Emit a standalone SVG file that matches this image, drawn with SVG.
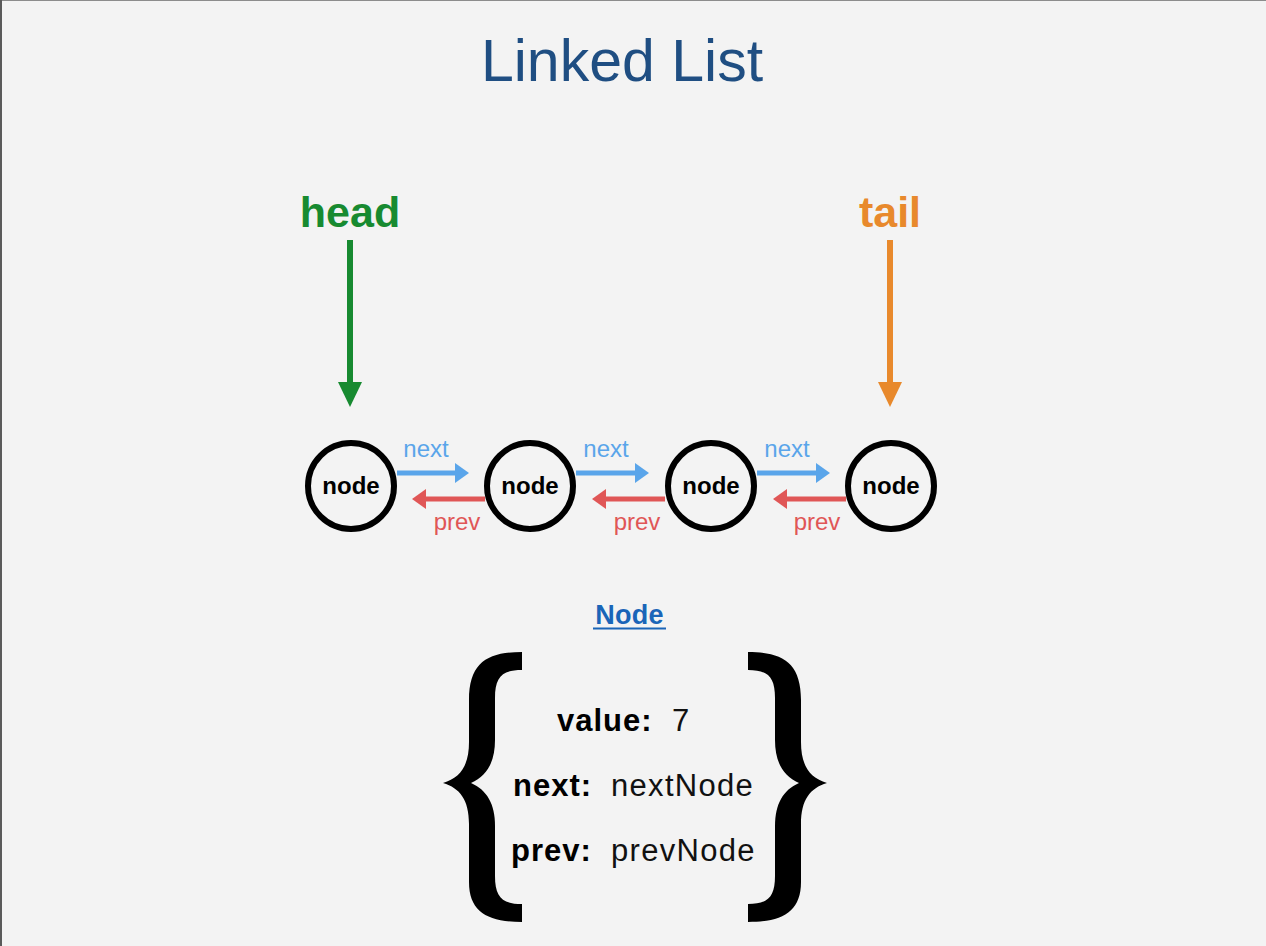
<svg xmlns="http://www.w3.org/2000/svg" width="1266" height="946" viewBox="0 0 1266 946">
  <style>
    .sans { font-family: "Liberation Sans", Arial, Helvetica, sans-serif; }
    .ring { fill: none; stroke: #000; stroke-width: 6; }
    .nlabel { font-size: 24px; font-weight: bold; fill: #000; text-anchor: middle; }
    .nxt { stroke: #5aa5ea; stroke-width: 5; fill: none; }
    .prv { stroke: #e05656; stroke-width: 5; fill: none; }
    .nxtTxt { font-size: 24px; fill: #5aa5ea; text-anchor: middle; }
    .prvTxt { font-size: 24px; fill: #e05656; text-anchor: middle; }
    .key { font-size: 31px; font-weight: bold; fill: #000; letter-spacing: 1px; }
    .val { font-size: 31px; fill: #111; letter-spacing: 1.3px; }
    .brace { fill: #000; stroke: none; }
  </style>
  <defs>
    <marker id="ahNext" viewBox="0 0 14 20" markerWidth="14" markerHeight="20" refX="0" refY="10" orient="auto" markerUnits="userSpaceOnUse">
      <path d="M0 0 L14 10 L0 20 z" fill="#5aa5ea"/>
    </marker>
    <marker id="ahPrev" viewBox="0 0 14 20" markerWidth="14" markerHeight="20" refX="0" refY="10" orient="auto" markerUnits="userSpaceOnUse">
      <path d="M0 0 L14 10 L0 20 z" fill="#e05656"/>
    </marker>
    <marker id="ahHead" viewBox="0 0 25 24" markerWidth="25" markerHeight="24" refX="0" refY="12" orient="auto" markerUnits="userSpaceOnUse">
      <path d="M0 0 L25 12 L0 24 z" fill="#178a30"/>
    </marker>
    <marker id="ahTail" viewBox="0 0 25 24" markerWidth="25" markerHeight="24" refX="0" refY="12" orient="auto" markerUnits="userSpaceOnUse">
      <path d="M0 0 L25 12 L0 24 z" fill="#e8892c"/>
    </marker>
  </defs>

  <!-- background and frame edges -->
  <rect x="0" y="0" width="1266" height="946" fill="#f3f3f3"/>
  <line x1="0" y1="0.5" x2="1266" y2="0.5" stroke="#8c8c8c" stroke-width="1"/>
  <line x1="1" y1="0" x2="1" y2="946" stroke="#5a5a5a" stroke-width="2"/>

  <!-- title -->
  <text class="sans" x="622" y="81" font-size="59" fill="#1f4e82" text-anchor="middle">Linked List</text>

  <!-- pointer labels -->
  <g id="head">
    <text class="sans" x="350" y="227" font-size="43" font-weight="bold" fill="#178a30" text-anchor="middle">head</text>
  </g>
  <g id="tail">
    <text class="sans" x="890" y="227" font-size="43" font-weight="bold" fill="#e8892c" text-anchor="middle">tail</text>
  </g>

  <!-- list nodes -->
  <g id="node1">
    <circle class="ring" cx="351" cy="486" r="43"/>
    <text class="sans nlabel" x="351" y="494">node</text>
  </g>
  <g id="node2">
    <circle class="ring" cx="530" cy="486" r="43"/>
    <text class="sans nlabel" x="530" y="494">node</text>
  </g>
  <g id="node3">
    <circle class="ring" cx="711" cy="486" r="43"/>
    <text class="sans nlabel" x="711" y="494">node</text>
  </g>
  <g id="node4">
    <circle class="ring" cx="891" cy="486" r="43"/>
    <text class="sans nlabel" x="891" y="494">node</text>
  </g>

  <!-- connectors -->
  <g id="connectors">
    <line x1="350" y1="240" x2="350" y2="382" stroke="#178a30" stroke-width="6" marker-end="url(#ahHead)"/>
    <line x1="890" y1="240" x2="890" y2="382" stroke="#e8892c" stroke-width="6" marker-end="url(#ahTail)"/>

    <line class="nxt" x1="397" y1="473" x2="455" y2="473" marker-end="url(#ahNext)"/>
    <line class="nxt" x1="576" y1="473" x2="635" y2="473" marker-end="url(#ahNext)"/>
    <line class="nxt" x1="757" y1="473" x2="816" y2="473" marker-end="url(#ahNext)"/>

    <line class="prv" x1="485" y1="499" x2="426" y2="499" marker-end="url(#ahPrev)"/>
    <line class="prv" x1="665" y1="499" x2="606" y2="499" marker-end="url(#ahPrev)"/>
    <line class="prv" x1="846" y1="499" x2="787" y2="499" marker-end="url(#ahPrev)"/>

    <text class="sans nxtTxt" x="426" y="457">next</text>
    <text class="sans nxtTxt" x="606" y="457">next</text>
    <text class="sans nxtTxt" x="787" y="457">next</text>

    <text class="sans prvTxt" x="457" y="530">prev</text>
    <text class="sans prvTxt" x="637" y="530">prev</text>
    <text class="sans prvTxt" x="817" y="530">prev</text>
  </g>

  <!-- node structure -->
  <g id="node-struct">
    <text class="sans" x="629.5" y="624" font-size="27" font-weight="bold" fill="#1a65b8" text-anchor="middle" letter-spacing="0.3">Node</text>
    <line x1="593" y1="628.5" x2="666" y2="628.5" stroke="#1a65b8" stroke-width="2"/>

    <!-- curly braces: left outline, mirrored for the right -->
    <path id="lbrace" class="brace" d="M522 652 C488 652 469 662 469 700 L469 742 C469 766 460 778 443 783 C460 788 469 800 469 824 L469 882 C469 912 488 922 522 922 L522 904 C502 904 495 897 495 876 L495 826 C495 804 487 790 471 783 C487 776 495 762 495 740 L495 698 C495 677 502 670 522 670 Z"/>
    <use href="#lbrace" transform="translate(1270,0) scale(-1,1)"/>

    <text class="sans key" x="557" y="731">value:</text>
    <text class="sans val" x="672" y="731">7</text>
    <text class="sans key" x="513" y="796">next:</text>
    <text class="sans val" x="611" y="796">nextNode</text>
    <text class="sans key" x="511" y="861">prev:</text>
    <text class="sans val" x="611" y="861">prevNode</text>
  </g>
</svg>
